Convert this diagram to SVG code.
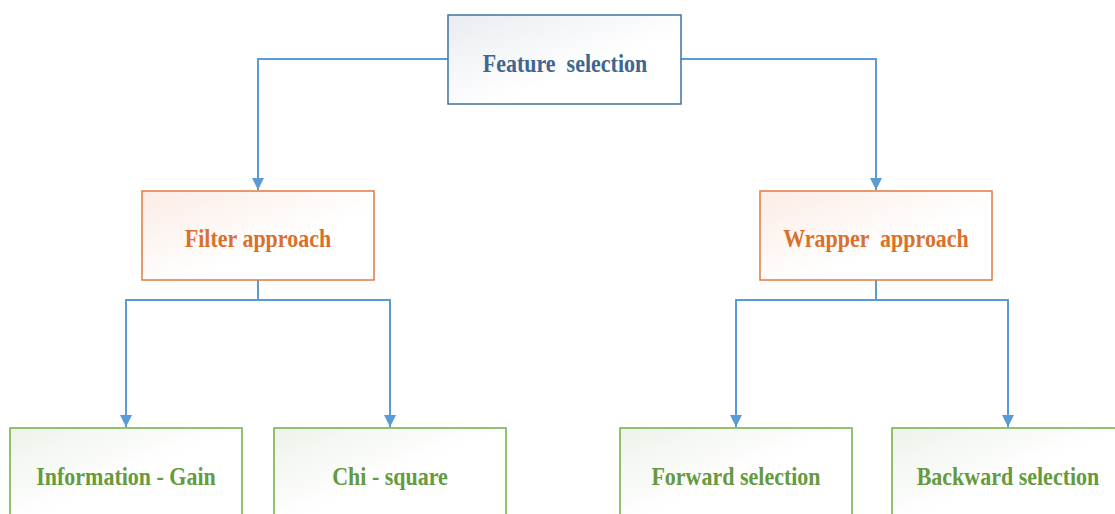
<svg xmlns="http://www.w3.org/2000/svg" width="1115" height="514" viewBox="0 0 1115 514">
  <style>
    .lbl { font-family: 'Liberation Serif', 'Times New Roman', 'DejaVu Serif', serif; font-weight: bold; font-size: 22px; text-anchor: middle; }
    .root rect { fill: url(#gBlue); stroke: #41719c; stroke-width: 1.5; }
    .root text { fill: #40658f; }
    .mid rect { fill: url(#gOrange); stroke: #e07b3c; stroke-width: 1.5; }
    .mid text { fill: #d9712d; }
    .leaf rect { fill: url(#gGreen); stroke: #70ad47; stroke-width: 1.5; }
    .leaf text { fill: #659a3f; }
    .edge { fill: none; stroke: #5b9bd5; stroke-width: 2; marker-end: url(#arrow); }
    .link { fill: none; stroke: #5b9bd5; stroke-width: 2; }
  </style>
  <defs>
    <linearGradient id="gBlue" x1="0" y1="0" x2="1" y2="1">
      <stop offset="0" stop-color="#e9ecf1"/>
      <stop offset="0.6" stop-color="#ffffff"/>
    </linearGradient>
    <linearGradient id="gOrange" x1="0" y1="0" x2="1" y2="1">
      <stop offset="0" stop-color="#fbece5"/>
      <stop offset="0.6" stop-color="#ffffff"/>
    </linearGradient>
    <linearGradient id="gGreen" x1="0" y1="0" x2="1" y2="1">
      <stop offset="0" stop-color="#edf2ea"/>
      <stop offset="0.5" stop-color="#ffffff"/>
    </linearGradient>
    <marker id="arrow" viewBox="0 0 12 12" refX="12" refY="6" markerWidth="12" markerHeight="12" markerUnits="userSpaceOnUse" orient="auto">
      <path d="M0,0 L12,6 L0,12 z" fill="#5b9bd5"/>
    </marker>
  </defs>
  <rect width="1115" height="514" fill="#ffffff"/>

  <!-- connectors -->
  <g id="connectors">
    <path class="edge" d="M448,59 H258 V190"/>
    <path class="edge" d="M681,59 H876 V190"/>
    <path class="link" d="M258,280 V300"/>
    <path class="edge" d="M258,300 H126 V427"/>
    <path class="edge" d="M258,300 H390 V427"/>
    <path class="link" d="M876,280 V300"/>
    <path class="edge" d="M876,300 H736 V427"/>
    <path class="edge" d="M876,300 H1008 V427"/>
  </g>

  <!-- nodes (labels slightly stretched vertically) -->
  <g id="feature-selection" class="root">
    <rect x="448" y="15" width="233" height="89"/>
    <text class="lbl" transform="translate(565,71.5) scale(1,1.12)" xml:space="preserve">Feature  selection</text>
  </g>
  <g id="filter-approach" class="mid">
    <rect x="142" y="191" width="232" height="89"/>
    <text class="lbl" transform="translate(258,247) scale(1,1.12)">Filter approach</text>
  </g>
  <g id="wrapper-approach" class="mid">
    <rect x="760" y="191" width="232" height="89"/>
    <text class="lbl" transform="translate(876,247) scale(1,1.12)" xml:space="preserve">Wrapper  approach</text>
  </g>
  <g id="information-gain" class="leaf">
    <rect x="10" y="428" width="232" height="100"/>
    <text class="lbl" transform="translate(126,485) scale(1,1.12)">Information - Gain</text>
  </g>
  <g id="chi-square" class="leaf">
    <rect x="274" y="428" width="232" height="100"/>
    <text class="lbl" transform="translate(390,485) scale(1,1.12)">Chi - square</text>
  </g>
  <g id="forward-selection" class="leaf">
    <rect x="620" y="428" width="232" height="100"/>
    <text class="lbl" transform="translate(736,485) scale(1,1.12)">Forward selection</text>
  </g>
  <g id="backward-selection" class="leaf">
    <rect x="892" y="428" width="232" height="100"/>
    <text class="lbl" transform="translate(1008,485) scale(1,1.12)">Backward selection</text>
  </g>
</svg>
